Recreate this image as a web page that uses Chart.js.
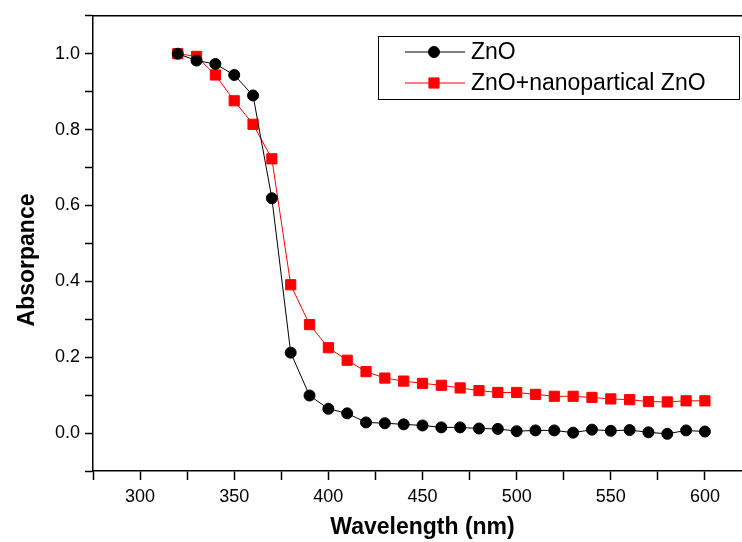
<!DOCTYPE html>
<html>
<head>
<meta charset="utf-8">
<script src="https://cdn.jsdelivr.net/npm/chart.js@4"></script>
<style>
  body { margin: 0; background: #fff; overflow: hidden; }
  #wrap { width: 742px; height: 542px; overflow: hidden; }
</style>
</head>
<body>
<div id="wrap"><canvas id="chart" width="762" height="542"></canvas></div>
<script>
// Wavelengths (nm)
const wavelength = [320, 330, 340, 350, 360, 370, 380, 390, 400, 410, 420, 430, 440, 450, 460,
  470, 480, 490, 500, 510, 520, 530, 540, 550, 560, 570, 580, 590, 600];

// Absorbance
const znO = [1.0, 0.982, 0.973, 0.944, 0.890, 0.619, 0.212, 0.099, 0.064, 0.052, 0.028, 0.026,
  0.023, 0.020, 0.015, 0.015, 0.012, 0.011, 0.005, 0.007, 0.007, 0.001, 0.009, 0.006, 0.008,
  0.002, -0.002, 0.007, 0.004];
const znONano = [1.0, 0.993, 0.944, 0.876, 0.814, 0.723, 0.391, 0.286, 0.225, 0.192, 0.162,
  0.145, 0.137, 0.131, 0.126, 0.119, 0.112, 0.107, 0.107, 0.102, 0.097, 0.097, 0.094, 0.090,
  0.088, 0.083, 0.082, 0.085, 0.085];

const seriesNames = ["ZnO", "ZnO+nanopartical ZnO"];
const xTickLabels = [300, 350, 400, 450, 500, 550, 600];
const yTickLabels = [0.0, 0.2, 0.4, 0.6, 0.8, 1.0];

const FONT = "'Liberation Sans', Arial, sans-serif";

const toPoints = (ys) => wavelength.map((w, i) => ({ x: w, y: ys[i] }));

// top frame line, y title and boxed legend
const decor = {
  id: "decor",
  afterDraw(chart) {
    const { ctx, chartArea } = chart;
    ctx.save();
    ctx.strokeStyle = "#000";
    ctx.lineWidth = 1.5;
    ctx.beginPath();
    ctx.moveTo(chartArea.left, chartArea.top);
    ctx.lineTo(chartArea.right, chartArea.top);
    ctx.stroke();

    // y axis title
    ctx.fillStyle = "#000";
    ctx.font = "bold 23px " + FONT;
    ctx.textAlign = "center";
    ctx.textBaseline = "middle";
    ctx.translate(28, 260);
    ctx.rotate(-Math.PI / 2);
    ctx.fillText("Absorpance", 0, 0);
    ctx.restore();

    // legend
    ctx.save();
    ctx.strokeStyle = "#000";
    ctx.lineWidth = 1;
    ctx.strokeRect(378.5, 36.5, 361, 63);
    chart.data.datasets.forEach((ds, i) => {
      const y = 52 + i * 31;
      ctx.strokeStyle = ds.borderColor;
      ctx.lineWidth = 1;
      ctx.beginPath();
      ctx.moveTo(405, y);
      ctx.lineTo(465, y);
      ctx.stroke();
      ctx.fillStyle = ds.pointBackgroundColor;
      ctx.strokeStyle = ds.pointBorderColor;
      Chart.helpers.drawPoint(ctx, {
        pointStyle: ds.pointStyle,
        radius: ds.pointRadius,
        borderWidth: 1,
        rotation: 0,
      }, 434, y);
      ctx.fillStyle = "#000";
      ctx.font = "23px " + FONT;
      ctx.textAlign = "left";
      ctx.textBaseline = "middle";
      ctx.fillText(ds.label, 471, y + 1);
    });
    ctx.restore();
  },
};

const ctx = document.getElementById("chart").getContext("2d");
new Chart(ctx, {
  type: "line",
  data: {
    datasets: [
      {
        label: seriesNames[0],
        data: toPoints(znO),
        borderColor: "#000000",
        borderWidth: 1,
        pointStyle: "circle",
        pointRadius: 5.5,
        pointBackgroundColor: "#000000",
        pointBorderColor: "#000000",
        pointBorderWidth: 1,
        tension: 0,
      },
      {
        label: seriesNames[1],
        data: toPoints(znONano),
        borderColor: "#ff0000",
        borderWidth: 1,
        pointStyle: "rect",
        pointRadius: 7.2,
        pointBackgroundColor: "#ff0000",
        pointBorderColor: "#ff0000",
        pointBorderWidth: 1,
        tension: 0,
      },
    ],
  },
  options: {
    responsive: false,
    animation: false,
    layout: { padding: { top: 14, right: 10, left: 0, bottom: 0 } },
    plugins: {
      legend: { display: false },
      tooltip: { enabled: false },
    },
    scales: {
      x: {
        type: "linear",
        min: 275,
        max: 625,
        afterFit: (s) => { s.height = 71; },
        afterBuildTicks: (s) => {
          const t = [];
          for (let v = 275; v <= 625; v += 25) t.push({ value: v });
          s.ticks = t;
        },
        ticks: {
          autoSkip: false,
          maxRotation: 0,
          padding: 6,
          color: "#000",
          font: { family: FONT, size: 18 },
          callback: (v) => (xTickLabels.includes(v) ? String(v) : ""),
        },
        grid: { drawOnChartArea: false, drawTicks: true, tickLength: 9, color: "#000", tickWidth: 1.5 },
        border: { display: true, color: "#000", width: 1.5 },
        title: {
          display: true,
          text: "Wavelength (nm)",
          color: "#000",
          font: { family: FONT, size: 23, weight: "bold" },
          padding: { top: 0, bottom: 1 },
        },
      },
      y: {
        min: -0.1,
        max: 1.1,
        afterFit: (s) => { s.width = 93; },
        afterBuildTicks: (s) => {
          const t = [];
          for (let k = -1; k <= 11; k++) t.push({ value: k / 10 });
          s.ticks = t;
        },
        ticks: {
          autoSkip: false,
          padding: 5,
          color: "#000",
          font: { family: FONT, size: 18 },
          callback: (v) => {
            const hit = yTickLabels.find((l) => Math.abs(l - v) < 1e-6);
            return hit !== undefined ? hit.toFixed(1) : "";
          },
        },
        grid: { drawOnChartArea: false, drawTicks: true, tickLength: 8, color: "#000", tickWidth: 1.5 },
        border: { display: true, color: "#000", width: 1.5 },
      },
    },
  },
  plugins: [decor],
});
</script>
</body>
</html>
